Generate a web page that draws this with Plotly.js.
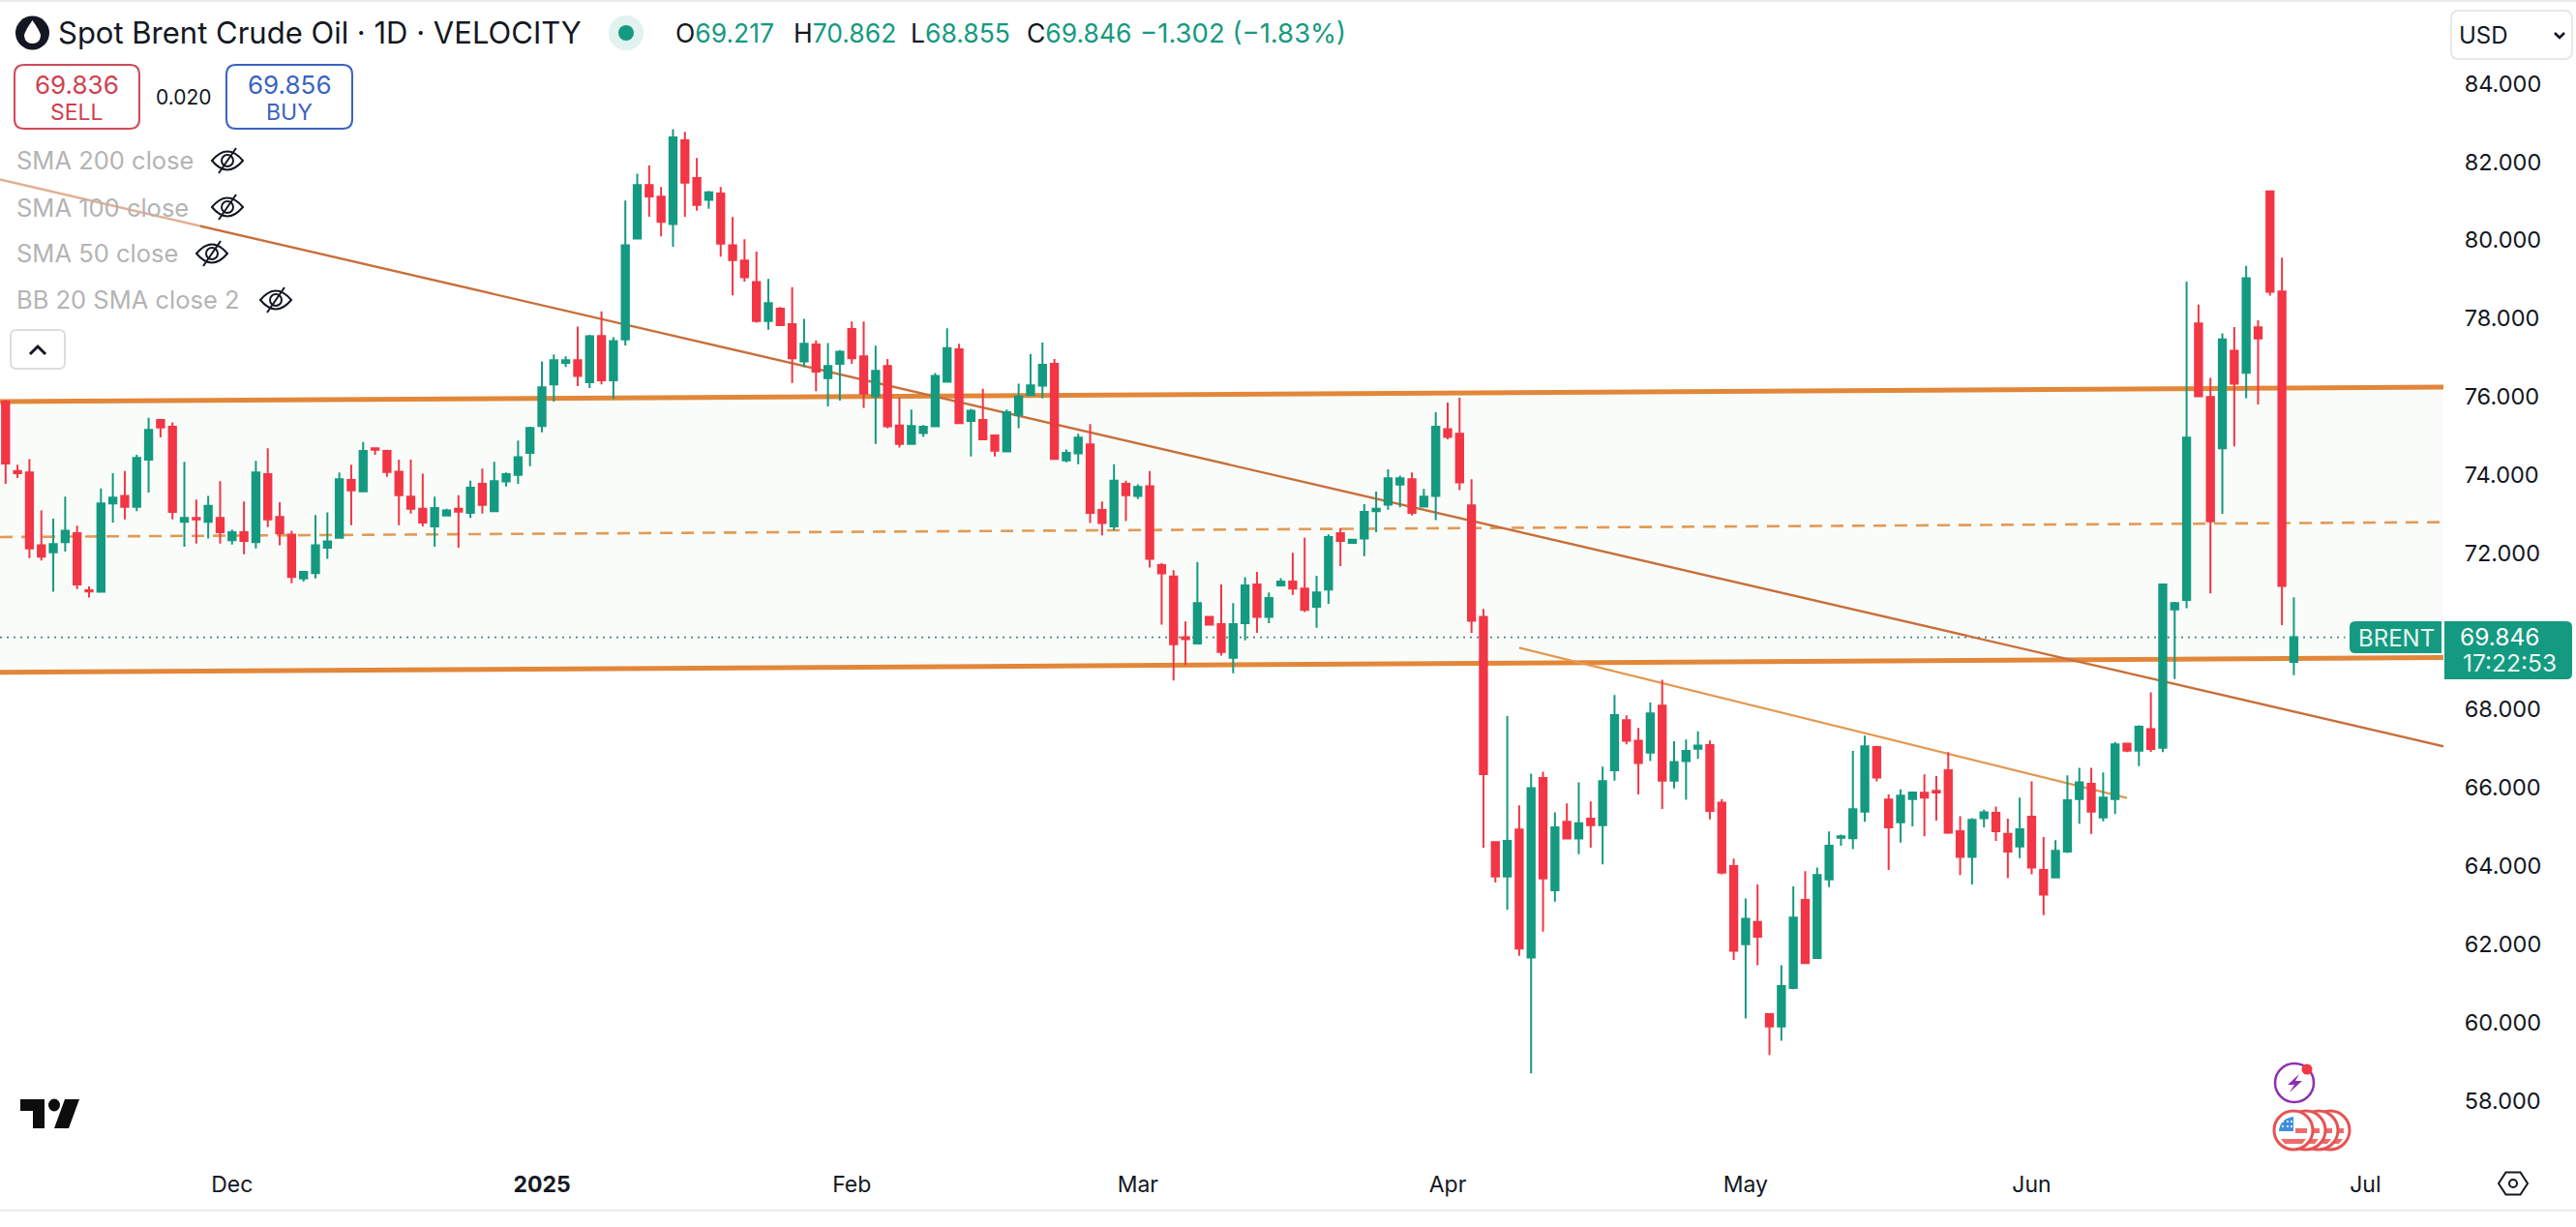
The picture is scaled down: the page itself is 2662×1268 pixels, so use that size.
<!DOCTYPE html>
<html><head><meta charset="utf-8">
<script src="https://cdn.plot.ly/plotly-3.0.1.min.js"></script>
<style>html,body{margin:0;padding:0;background:#fff;overflow:hidden}</style>
</head><body><div id="chart"></div>
<script>
const open_ = [75.87,74.10,74.06,72.20,72.02,72.28,72.51,71.05,71.01,73.27,73.46,73.18,74.39,75.40,75.23,72.80,72.90,72.80,72.90,72.33,72.53,72.28,74.02,72.92,72.47,71.35,71.49,72.14,72.39,73.87,73.58,74.68,74.61,74.08,73.44,73.13,72.68,72.96,73.13,73.03,73.77,73.07,73.83,74.00,74.56,75.25,76.31,76.86,76.93,76.37,77.55,76.42,77.46,80.04,81.41,81.11,80.41,82.55,81.59,81.03,81.19,79.87,79.48,78.93,77.93,78.25,77.85,76.90,77.33,76.47,76.84,77.73,77.03,76.01,76.78,75.26,74.79,75.07,75.24,76.38,77.21,75.38,75.40,75.01,74.60,75.53,76.04,76.28,76.84,74.37,74.55,74.78,73.10,72.68,73.77,73.46,73.71,71.69,71.40,69.85,69.69,70.37,70.18,69.32,70.21,71.20,70.37,71.17,71.27,71.09,70.63,71.07,72.51,72.26,72.37,73.07,73.24,73.75,73.89,73.19,73.46,75.17,75.05,73.22,70.37,64.61,63.73,64.93,61.66,66.25,63.38,65.13,64.70,65.21,65.04,66.45,67.73,67.20,66.90,68.10,66.18,66.68,67.00,67.09,65.62,64.00,62.00,62.57,60.21,59.90,60.88,63.13,61.65,63.66,64.72,64.71,65.39,67.04,65.70,65.12,65.71,65.87,65.92,66.45,64.89,64.23,65.22,65.36,64.82,64.50,65.26,63.90,63.71,64.37,65.71,66.10,65.24,65.71,67.13,66.95,67.50,67.02,70.56,70.80,77.87,75.99,74.68,77.17,76.61,77.77,81.25,78.69,69.22];
const high = [75.91,74.26,74.40,73.09,72.88,73.44,72.70,71.15,73.65,74.04,74.10,74.51,75.46,75.40,75.34,74.33,73.37,73.46,73.84,72.60,73.32,74.36,74.68,73.30,72.57,71.54,72.97,73.04,74.06,74.26,74.84,74.68,74.64,74.39,74.39,74.03,73.44,73.13,73.48,73.85,74.16,74.33,74.06,74.88,75.23,76.90,77.08,77.03,77.79,77.58,78.18,77.52,81.01,81.70,81.91,81.36,82.84,82.77,82.10,81.26,81.36,80.59,80.02,79.71,79.01,78.29,78.80,77.99,77.44,77.37,77.19,77.92,77.92,77.30,76.96,75.97,75.67,75.27,76.60,77.75,77.35,75.69,76.20,75.01,75.67,76.33,77.09,77.38,76.96,74.65,75.05,75.30,73.32,74.27,73.85,73.76,74.10,71.75,71.56,70.25,71.77,70.39,71.20,70.72,71.38,71.52,70.99,71.36,72.01,72.39,71.42,72.48,72.64,72.36,73.25,73.57,74.14,73.98,74.06,73.64,75.60,75.85,75.97,73.89,70.57,64.63,67.83,65.55,66.36,66.41,65.37,65.60,66.14,65.65,66.54,68.37,67.85,67.53,68.18,68.76,67.19,67.23,67.44,67.21,65.71,64.19,63.17,63.53,60.24,61.46,63.48,63.87,63.96,64.88,64.80,66.94,67.33,67.07,65.83,65.96,65.89,66.34,66.30,66.91,65.27,65.22,65.44,65.52,65.21,65.75,66.16,64.74,64.66,66.32,66.51,66.51,66.39,67.17,67.15,67.60,68.44,71.20,70.75,78.94,78.35,76.48,77.62,77.78,79.34,77.95,81.25,79.55,70.87];
const low = [73.77,73.92,71.87,71.81,71.01,72.04,71.08,70.86,71.01,72.78,72.86,73.07,73.55,74.96,72.86,72.16,72.24,72.37,72.24,72.22,71.97,72.12,72.66,72.20,71.23,71.27,71.35,71.85,72.39,72.71,73.58,74.51,73.95,72.71,73.01,72.68,72.16,72.96,72.14,72.90,73.01,73.07,73.70,73.77,74.22,75.09,75.87,76.76,76.27,76.22,76.31,75.95,77.31,80.04,80.60,80.10,79.83,80.60,80.75,80.80,79.58,78.59,78.94,77.89,77.71,77.83,76.35,76.75,76.14,75.75,75.90,76.84,75.71,74.79,75.19,74.70,74.79,74.97,75.24,76.38,75.32,74.47,74.89,74.47,74.60,75.19,76.04,75.96,74.41,74.32,74.27,72.77,72.45,72.58,72.82,73.38,71.63,70.17,68.74,69.14,69.67,70.17,69.38,68.93,69.77,69.96,70.21,71.17,70.93,70.49,70.09,70.70,71.67,72.25,71.92,72.53,73.11,73.17,72.96,73.19,72.84,74.91,73.61,69.96,64.47,63.58,62.88,61.70,58.70,62.32,63.09,64.70,64.30,64.47,64.04,66.18,67.11,65.83,66.68,65.46,65.98,65.69,66.74,65.19,63.79,61.60,60.10,61.46,59.17,59.53,60.85,61.51,61.65,63.46,64.52,64.43,65.13,66.16,63.90,64.60,65.01,64.76,65.16,64.82,63.77,63.53,64.99,64.64,63.69,64.20,63.79,62.74,63.71,64.33,65.08,64.82,65.14,65.33,66.91,66.55,66.92,66.91,68.78,70.59,76.01,70.97,73.00,74.73,75.96,75.80,78.58,70.16,68.88];
const close_ = [74.29,74.04,72.12,71.91,72.23,72.57,71.20,71.02,73.27,73.42,73.18,74.43,75.15,75.21,73.05,72.90,72.86,73.21,72.53,72.53,72.31,74.06,72.86,72.51,71.39,71.52,72.20,72.30,73.89,73.60,74.61,74.64,74.07,73.48,73.13,72.78,73.15,73.09,73.06,73.67,73.23,73.84,74.02,74.45,75.20,76.24,76.93,76.93,76.53,77.54,76.42,77.42,79.87,81.41,81.12,80.47,82.63,81.47,80.90,81.22,79.91,79.49,79.05,77.93,78.39,77.83,76.98,77.35,76.64,76.78,77.15,76.98,76.08,76.66,75.24,74.79,75.25,75.23,76.53,77.24,75.32,75.64,74.91,74.62,75.60,76.00,76.29,76.81,74.41,74.56,74.95,73.03,72.77,73.85,73.48,73.69,71.85,71.48,69.67,69.80,70.72,70.17,69.47,70.18,71.17,70.37,70.85,71.27,71.09,70.55,70.99,72.41,72.31,72.34,73.05,73.13,73.91,73.91,73.03,73.44,75.23,74.97,73.81,70.27,66.35,63.73,64.64,61.89,65.99,63.68,64.99,64.70,65.09,65.04,66.17,67.86,67.20,66.63,67.90,66.18,66.66,66.94,67.08,65.41,63.83,61.83,62.65,62.19,59.90,60.93,62.68,61.52,63.77,64.52,64.76,65.45,67.06,66.26,64.99,65.80,65.88,65.75,65.88,64.85,64.23,65.18,65.37,64.89,64.37,64.94,63.96,63.27,64.39,65.68,66.14,65.39,65.75,67.11,66.95,67.56,66.99,71.20,70.72,74.95,76.01,72.81,77.46,76.33,79.03,77.49,78.68,71.16,69.85];

const tickMonths = ["Dec","<b>2025</b>","Feb","Mar","Apr","May","Jun","Jul"];
const tickBars = [19,45,71,95,121,146,170,198];
const priceTicks = [58,60,62,64,66,68,72,74,76,78,80,82,84];

const edgeX = [-0.47,204.55];
const upperChannel = [75.87,76.245];
const midChannel = [72.41,72.79];
const lowerChannel = [68.95,69.33];
const longTrend = [81.55,67.06];
const shortTrendX = [127,178];
const shortTrend = [69.58,65.74];
const lastPrice = [69.846,69.846];
const lastPriceX = [-0.47,196.3];

const W=2525,H=1200,GREEN='#149a80',RED='#f23645',INK='#131722',FONT='Inter, sans-serif';
const px=x=>x/W, py=y=>1-y/H;
const P=(x,y)=>px(x)+','+py(y);
const shapes=[], ann=[];
function box(x0,y0,x1,y1,opt){shapes.push(Object.assign({type:'rect',xref:'paper',yref:'paper',x0:px(x0),x1:px(x1),y0:py(y0),y1:py(y1),line:{width:0},layer:'above'},opt));}
function oval(cx,cy,rx,ry,fill,stroke,lw){shapes.push({type:'circle',xref:'paper',yref:'paper',x0:px(cx-rx),x1:px(cx+rx),y0:py(cy-ry),y1:py(cy+ry),fillcolor:fill,line:{color:stroke||fill,width:lw===undefined?0:lw},layer:'above'});}
function path(d,fill,stroke,lw){shapes.push({type:'path',xref:'paper',yref:'paper',path:d,fillcolor:fill||'rgba(0,0,0,0)',line:{color:stroke||'rgba(0,0,0,0)',width:lw||0},layer:'above'});}
function rr(x0,y0,x1,y1,r){return `M${P(x0+r,y0)} L${P(x1-r,y0)} Q${P(x1,y0)} ${P(x1,y0+r)} L${P(x1,y1-r)} Q${P(x1,y1)} ${P(x1-r,y1)} L${P(x0+r,y1)} Q${P(x0,y1)} ${P(x0,y1-r)} L${P(x0,y0+r)} Q${P(x0,y0)} ${P(x0+r,y0)} Z`;}
function label(t,x,y,size,color,anchor){ann.push({text:t,xref:'paper',yref:'paper',x:px(x),y:py(y),xanchor:anchor||'left',yanchor:'middle',showarrow:false,font:{family:FONT,size:size,color:color},borderpad:0,borderwidth:0});}
function under(x,y,color,width,dash){shapes.push({type:'line',xref:'x',yref:'y',x0:x[0],x1:x[1],y0:y[0],y1:y[1],line:{color:color,width:width,dash:dash||'solid'},layer:'below'});}

// channel band and drawn lines, under the candles
shapes.push({type:'path',xref:'x',yref:'y',layer:'below',fillcolor:'#f9fcf9',line:{width:0},
  path:`M${edgeX[0]},${upperChannel[0]} L${edgeX[1]},${upperChannel[1]} L${edgeX[1]},${lowerChannel[1]} L${edgeX[0]},${lowerChannel[0]} Z`});
under(lastPriceX,lastPrice,'#4f8578',1.8,'2px,5px');
under(edgeX,midChannel,'#e39a55',2.6,'13px,9px');
under(edgeX,upperChannel,'#e2873a',5);
under(edgeX,lowerChannel,'#e2873a',5);
under(edgeX,longTrend,'#c86f3a',2.4);
under(shortTrendX,shortTrend,'#e2994f',2.2);

// frame lines
box(0,0,2662,2,{fillcolor:'#ebebeb'});
box(0,1250,2662,1252,{fillcolor:'#ebebeb'});
// veil of the legend over the trend line
box(0,150,207,335,{fillcolor:'rgba(255,255,255,0.45)'});

// header
oval(33.5,34,17.5,17.5,'#131722');
path(`M${P(33.5,21)} Q${P(42,33)} ${P(42,37)} Q${P(41,45)} ${P(33.5,45)} Q${P(26,45)} ${P(25,37)} Q${P(25,33)} ${P(33.5,21)} Z`,'#ffffff');
label('Spot Brent Crude Oil · 1D · VELOCITY',60,34,31,INK);
oval(647,34,18,18,'#e2f2ee');
oval(647,34,8,8,GREEN);
const gv=t=>`<span style="color:${GREEN}">${t}</span>`;
label('O'+gv('69.217'),698,34,26.5,INK);
label('H'+gv('70.862'),820,34,26.5,INK);
label('L'+gv('68.855'),941,34,26.5,INK);
label('C'+gv('69.846'),1061,34,26.5,INK);
label(gv('−1.302 (−1.83%)'),1178,34,27.5,INK);

// sell / buy
path(rr(15,67,144,133,10),'#ffffff','#d04a5a',2);
path(rr(234,67,364,133,10),'#ffffff','#3b63c2',2);
label('69.836',79.5,87,26,'#d0414f','center');
label('SELL',79.5,116,23,'#d0414f','center');
label('0.020',190,100,21,INK,'center');
label('69.856',299,87,26,'#3b63c2','center');
label('BUY',299,116,23,'#3b63c2','center');

// indicator legend
const legendRows=[['SMA 200 close',166,235],['SMA 100 close',214,235],['SMA 50 close',262,219],['BB 20 SMA close 2',310,285]];
legendRows.forEach(r=>{
  label(r[0],17,r[1],25.5,'#b4b4b4');
  const c=r[2],y=r[1];
  path(`M${P(c-16,y)} Q${P(c,y-19)} ${P(c+16,y)} Q${P(c,y+19)} ${P(c-16,y)} Z`,null,'#131722',2);
  oval(c,y,6,6,'rgba(0,0,0,0)','#131722',2);
  path(`M${P(c-9,y+13)} L${P(c+9,y-13)}`,null,'#131722',2);
});
path(rr(11,341,67,381,6),'#ffffff','#dddddd',2);
path(`M${P(31,366)} L${P(39,358)} L${P(47,366)}`,null,'#131722',3);

// currency box
path(rr(2533,11,2658,61,8),'#ffffff','#e8e8e8',2);
label('USD',2541,36,24,INK);
path(`M${P(2640,34)} L${P(2645,39)} L${P(2650,34)}`,null,'#131722',2.5);

// price tags
path(`M${P(2434,642)} L${P(2523,642)} L${P(2523,675)} L${P(2434,675)} Q${P(2428,675)} ${P(2428,669)} L${P(2428,648)} Q${P(2428,642)} ${P(2434,642)} Z`,GREEN);
label('BRENT',2476,659,24,'#e6f6f2','center');
path(`M${P(2526,642)} L${P(2652,642)} Q${P(2658,642)} ${P(2658,648)} L${P(2658,696)} Q${P(2658,702)} ${P(2652,702)} L${P(2526,702)} Z`,GREEN);
label('69.846',2542,658,24.5,'#ffffff');
label('17:22:53',2545,685,24.5,'#e6f6f2');

// logo
path(`M${P(21,1136)} L${P(46,1136)} L${P(46,1166)} L${P(34,1166)} L${P(34,1148)} L${P(21,1148)} Z`,'#0d0d0d');
oval(56,1142,6,6.5,'#0d0d0d');
path(`M${P(67,1136)} L${P(82,1136)} L${P(71,1166)} L${P(56,1166)} Z`,'#0d0d0d');

// gear
(function(){const c=2597,y=1223,r=15;let d='';for(let i=0;i<6;i++){const a=i*Math.PI/3;d+=(i?'L':'M')+P(c+r*Math.cos(a),y+r*0.88*Math.sin(a))+' ';}path(d+'Z',null,'#131722',2);oval(c,y,4,4,'rgba(0,0,0,0)','#131722',2);})();

// event badges
oval(2371,1119,20,20,'#ffffff','#8e2db5',2.5);
path(`M${P(2376,1110)} L${P(2364,1121)} L${P(2371,1121)} L${P(2366,1129)} L${P(2379,1117)} L${P(2372,1117)} Z`,'#8e2db5');
oval(2384,1105,5.5,5.5,'#f23645');
[2408,2396,2383,2370].forEach(c=>{
  oval(c,1168,20,20,'#ffffff','#e55353',3);
  path(`M${P(c+2,1166)} L${P(c+14,1166)} L${P(c+14,1171)} L${P(c+2,1171)} Z`,'#f06a6a');
  path(`M${P(c-13,1177)} L${P(c+13,1177)} L${P(c+9,1182)} L${P(c-9,1182)} Z`,'#f06a6a');
});
path(`M${P(2370,1154)} L${P(2370,1169)} L${P(2355,1169)} Q${P(2356,1156)} ${P(2370,1154)} Z`,'#3f8fdc');
[1159,1164].forEach(y=>[2359,2364,2368].forEach(x=>oval(x,y,1.1,1.1,'#ffffff')));

const bars=open_.map((_,i)=>i);

const traces=[
 {type:'candlestick',x:bars,open:open_,high:high,low:low,close:close_,whiskerwidth:0,
  increasing:{line:{color:GREEN,width:2},fillcolor:GREEN},decreasing:{line:{color:RED,width:2},fillcolor:RED},showlegend:false,hoverinfo:'skip'}
];

const layout={width:2662,height:1268,margin:{l:0,r:137,t:0,b:68,pad:0},paper_bgcolor:'#fff',plot_bgcolor:'rgba(0,0,0,0)',showlegend:false,boxgap:0.15,
 xaxis:{type:'linear',range:edgeX,fixedrange:true,showgrid:false,zeroline:false,showline:false,tickmode:'array',tickvals:tickBars,ticktext:tickMonths,ticks:'outside',ticklen:3,tickcolor:'rgba(0,0,0,0)',tickfont:{family:FONT,size:23,color:INK},rangeslider:{visible:false},tickangle:0},
 yaxis:{side:'right',range:[56.452,86.14],fixedrange:true,showgrid:false,zeroline:false,showline:false,tickmode:'array',tickvals:priceTicks,tickformat:'.3f',ticks:'outside',ticklen:16,tickcolor:'rgba(0,0,0,0)',tickfont:{family:FONT,size:23.5,color:INK}},
 shapes:shapes,annotations:ann,hovermode:false};
Plotly.newPlot('chart',traces,layout,{displayModeBar:false,staticPlot:true});
</script></body></html>
